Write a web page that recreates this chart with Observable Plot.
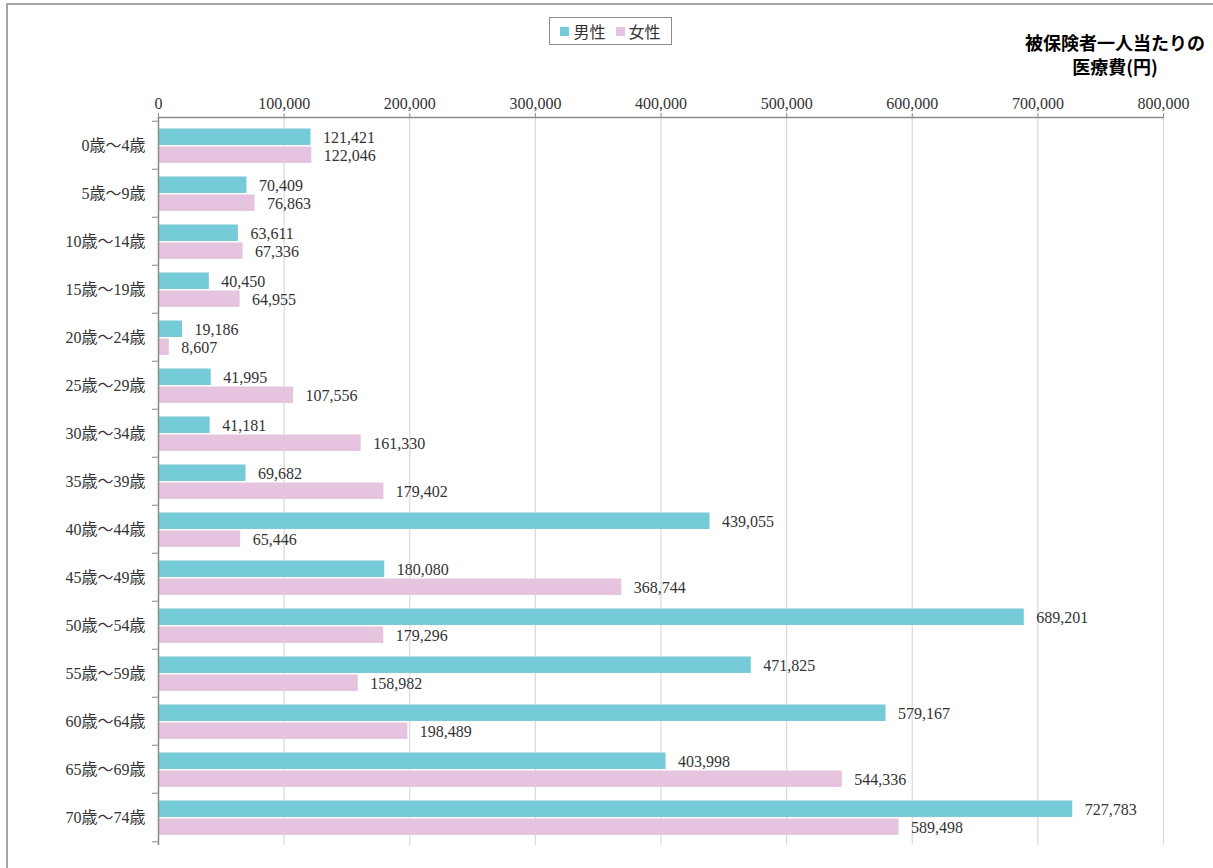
<!DOCTYPE html>
<html>
<head>
<meta charset="utf-8">
<script src="https://cdn.jsdelivr.net/npm/d3@7"></script>
<script src="https://cdn.jsdelivr.net/npm/@observablehq/plot@0.6"></script>
<style>
  html, body { margin: 0; padding: 0; background: #fff; }
  #wrap { position: relative; width: 1213px; height: 868px; overflow: hidden; }
  #frameline { position: absolute; left: 6px; top: 3px; width: 1300px; height: 1000px;
    border-left: 2px solid #a6a6a6; border-top: 2px solid #a6a6a6; box-sizing: border-box; }
  #chart { position: absolute; left: 0; top: 0; }
  #legend { position: absolute; left: 549px; top: 17px; width: 123px; height: 28px; box-sizing: border-box;
    border: 1px solid #8c8c8c; background: #fff; display: flex; align-items: center; justify-content: center;
    font-family: "Noto Sans CJK JP", "Noto Sans", sans-serif; font-size: 16px; color: #333; gap: 4px; }
  #legend .sw { display: inline-block; width: 9px; height: 9px; margin-right: 4px; }
  #legend .item { display: flex; align-items: center; margin: 0 3px; }
  #title { position: absolute; left: 1010px; top: 30px; width: 210px; text-align: center;
    font-family: "Noto Sans CJK JP", sans-serif; font-weight: 700; font-size: 18px; line-height: 24px; color: #000; }
</style>
</head>
<body>
<div id="wrap">
  <div id="chart"></div>
  <div id="frameline"></div>
  <div id="legend"></div>
  <div id="title"></div>
</div>
<script>
const categories = ["0歳～4歳","5歳～9歳","10歳～14歳","15歳～19歳","20歳～24歳","25歳～29歳","30歳～34歳","35歳～39歳","40歳～44歳","45歳～49歳","50歳～54歳","55歳～59歳","60歳～64歳","65歳～69歳","70歳～74歳"];
const male = [121421,70409,63611,40450,19186,41995,41181,69682,439055,180080,689201,471825,579167,403998,727783];
const female = [122046,76863,67336,64955,8607,107556,161330,179402,65446,368744,179296,158982,198489,544336,589498];
const seriesNames = ["男性","女性"];
const seriesColors = ["#75cbd7","#e6c3de"];
const xTicks = [0,100000,200000,300000,400000,500000,600000,700000,800000];
const titleLines = ["被保険者一人当たりの","医療費(円)"];

const data = categories.map((c, i) => ({age: c, male: male[i], female: female[i]}));
const fmt = d3.format(",");

const W = 1213, H = 868, mT = 117, mB = 23, mL = 158, mR = 50;
const bw = (H - mT - mB) / categories.length;
const barH = 17;
const serif = "'Liberation Serif', 'DejaVu Serif', 'Noto Sans CJK JP', serif";

const chart = Plot.plot({
  width: W, height: H,
  marginTop: mT, marginBottom: mB, marginLeft: mL, marginRight: mR,
  style: {fontFamily: serif, fontSize: "16px", color: "#333", background: "transparent"},
  x: {domain: [0, 800000], label: null, axis: null},
  y: {domain: categories, padding: 0, label: null, axis: null},
  marks: [
    Plot.gridX(xTicks.slice(1), {stroke: "#d9d9d9", strokeOpacity: 1, strokeWidth: 1.2}),
    Plot.barX(data, {x: "male", y: "age", fill: seriesColors[0], insetTop: 7.5, insetBottom: bw - 7.5 - barH}),
    Plot.barX(data, {x: "female", y: "age", fill: seriesColors[1], insetTop: 7.5 + barH + 1, insetBottom: bw - 8.5 - 2 * barH}),
    Plot.text(data, {x: "male", y: "age", text: d => fmt(d.male), dx: 12, dy: -8, textAnchor: "start", fill: "#333", fontSize: 16}),
    Plot.text(data, {x: "female", y: "age", text: d => fmt(d.female), dx: 12, dy: 10, textAnchor: "start", fill: "#333", fontSize: 16}),
    Plot.axisX(xTicks, {anchor: "top", tickSize: 5, tickPadding: 4, stroke: "#8c8c8c", fill: "#333", tickFormat: fmt, fontSize: 16, label: null}),
    Plot.axisY(categories, {anchor: "left", tickSize: 0, tickPadding: 13, fill: "#333", fontSize: 16, label: null}),
    Plot.axisY(categories, {anchor: "left", tickSize: 6, tickFormat: () => "", stroke: "#8c8c8c", dy: -bw / 2, label: null}),
    Plot.axisY([categories[categories.length - 1]], {anchor: "left", tickSize: 6, tickFormat: () => "", stroke: "#8c8c8c", dy: bw / 2, label: null}),
    Plot.frame({anchor: "top", stroke: "#8c8c8c", strokeWidth: 1.5}),
    Plot.ruleX([0], {stroke: "#8c8c8c", strokeWidth: 1.5})
  ]
});
document.getElementById("chart").appendChild(chart);

const legend = document.getElementById("legend");
seriesNames.forEach((n, i) => {
  const it = document.createElement("span");
  it.className = "item";
  it.innerHTML = `<span class="sw" style="background:${seriesColors[i]}"></span>${n}`;
  legend.appendChild(it);
});
document.getElementById("title").innerHTML = titleLines.join("<br>");
</script>
</body>
</html>
